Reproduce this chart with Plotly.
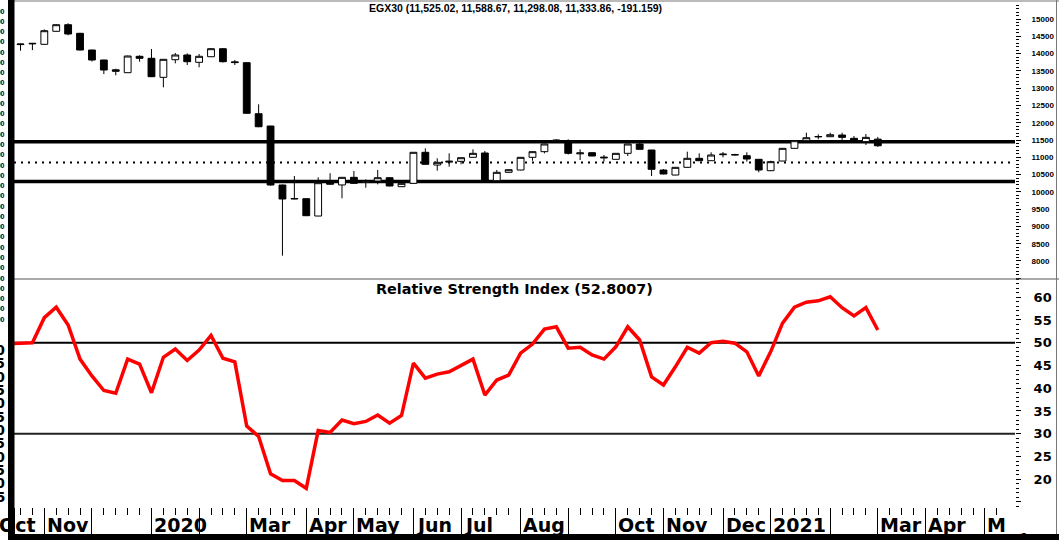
import plotly.graph_objects as go

# ---------------- data ----------------
weeks = list(range(73))
opens = [14260, 14280, 14268, 14644, 14835, 14586, 14103, 13814, 13530, 13447,
         13921, 13863, 13313, 13823, 13959, 13747, 13909, 14141, 13760, 13737,
         12260, 11904, 10198, 9795, 9802, 9301, 10300, 10200, 10420, 10280,
         10313, 10409, 10149, 10246, 11144, 10776, 10860, 10883, 10999, 11124,
         10323, 10565, 10632, 10999, 11162, 11470, 11452, 11100, 11133, 10980,
         10941, 11114, 11384, 11210, 10632, 10487, 10709, 10970, 10901, 11075,
         11080, 11046, 10941, 10612, 10892, 11259, 11480, 11590, 11595, 11644,
         11548, 11452, 11525.02]
highs = [14285, 14300, 14700, 14850, 14876, 14600, 14110, 13820, 13562, 13940,
         13950, 14132, 13840, 14017, 14007, 13988, 14160, 14150, 13814, 13745,
         12532, 11910, 10210, 10458, 9810, 10420, 10540, 10430, 10603, 10360,
         10632, 10420, 10250, 11150, 11259, 10970, 11114, 10995, 11230, 11182,
         10632, 10650, 11005, 11170, 11390, 11520, 11520, 11230, 11145, 11066,
         11120, 11390, 11420, 11215, 10660, 10715, 11162, 11114, 11144, 11150,
         11100, 11144, 10950, 10900, 11265, 11485, 11711, 11664, 11711, 11711,
         11615, 11673, 11588.67]
lows = [14083, 14100, 14250, 14630, 14528, 14095, 13770, 13409, 13371, 13440,
        13765, 13320, 13024, 13718, 13669, 13602, 13900, 13740, 13669, 12260,
        11870, 10180, 8153, 9780, 9300, 9295, 10210, 9813, 10230, 10120,
        10217, 10160, 10140, 10240, 10790, 10612, 10728, 10796, 10990, 10320,
        10315, 10560, 10625, 10900, 11114, 11440, 11080, 10921, 11030, 10873,
        10935, 11037, 11225, 10458, 10510, 10480, 10700, 10895, 10895, 10999,
        11050, 10873, 10565, 10600, 10885, 11250, 11470, 11520, 11590, 11500,
        11475, 11355, 11298.08]
closes = [14275, 14295, 14662, 14835, 14566, 14103, 13814, 13525, 13490, 13930,
          13863, 13331, 13834, 13959, 13765, 13921, 14141, 13765, 13740, 12272,
          11884, 10198, 9793, 9805, 9310, 10265, 10220, 10420, 10246, 10310,
          10409, 10169, 10246, 11144, 10796, 10854, 10885, 10988, 11114, 10323,
          10565, 10641, 10999, 11162, 11384, 11495, 11114, 11125, 11037, 11000,
          11114, 11384, 11230, 10652, 10516, 10709, 10970, 10901, 11066, 11090,
          11070, 10950, 10632, 10873, 11259, 11480, 11566, 11600, 11653, 11576,
          11480, 11576, 11333.86]

rsi_x = list(range(-1, 73))
rsi_vals = [49.8, 49.9, 50.0, 55.5, 57.8, 53.9, 46.4, 42.7, 39.5, 38.9, 46.4,
            45.3, 39.0, 46.8, 48.6, 46.1, 48.4, 51.6, 46.6, 45.8, 31.7,
            29.4, 21.2, 19.7, 19.7, 18.0, 30.7, 30.3, 33.0, 32.2, 32.7,
            34.1, 32.3, 34.0, 45.5, 42.2, 43.1, 43.6, 44.9, 46.4, 38.5,
            41.8, 42.9, 47.7, 49.7, 53.0, 53.5, 48.8, 49.0, 47.3, 46.4,
            49.1, 53.5, 50.6, 42.5, 40.7, 44.7, 49.0, 47.7, 50.0, 50.3,
            49.9, 48.0, 42.7, 48.0, 54.3, 57.8, 58.9, 59.2, 60.1, 57.7,
            55.9, 57.7, 52.8]

month_first_week = [-2, 2, 6, 11, 15, 19, 24, 28, 33, 37, 42, 46, 50, 54, 59, 63, 68, 72, 76, 81]
month_labels = ["Oct", "Nov", "", "2020", "", "Mar", "Apr", "May", "Jun", "Jul",
                "Aug", "", "Oct", "Nov", "Dec", "2021", "", "Mar", "Apr", "May"]

price_tickvals = [7500, 8000, 8500, 9000, 9500, 10000, 10500, 11000, 11500, 12000,
                  12500, 13000, 13500, 14000, 14500, 15000]
price_ticktext = ["", "8000", "8500", "9000", "9500", "10000", "10500", "11000", "11500",
                  "12000", "12500", "13000", "13500", "14000", "14500", "15000"]
rsi_tickvals = [15, 20, 25, 30, 35, 40, 45, 50, 55, 60]
rsi_ticktext = ["", "20", "25", "30", "35", "40", "45", "50", "55", "60"]

resistance_level = 11450
support_level = 10300
mid_level = 10850
rsi_levels = [50, 30]

price_title = "EGX30 (11,525.02, 11,588.67, 11,298.08, 11,333.86, -191.159)"
rsi_title = "Relative Strength Index (52.8007)"

left_price_labels = ["15300", "15200", "15100", "15000", "14900", "14800", "14700", "14600",
                     "14500", "14400", "14300", "14200", "14100", "14000", "13900", "13800",
                     "13700", "13600", "13500", "13400", "13300", "13200", "13100", "13000",
                     "12900", "12800", "12700", "12600", "12500", "12400", "12300"]
left_rsi_labels = ["60", "55", "50", "45", "40", "35", "30", "25", "20", "15", "10", "5"]

# ---------------- geometry ----------------
W, H = 1059, 540
L, R, T, B = 14, 1015, 2, 507
SPLIT = 279
X0_PIX, WEEK_PIX = 20.5, 11.907
xmin = (L - X0_PIX) / WEEK_PIX
xmax = (R - X0_PIX) / WEEK_PIX


def px(x):
    return (x - L) / (R - L)


def py(y):
    return (B - y) / (B - T)


def week_pix(i):
    return L + (i - xmin) / (xmax - xmin) * (R - L)


split_dom = py(SPLIT)
BOLD_DV = "DejaVu Sans"
BOLD_LS = "Liberation Sans"

fig = go.Figure()
# RSI on the primary y axis (bottom panel), price on y2 (top panel)
fig.add_trace(go.Scatter(
    x=rsi_x, y=rsi_vals, mode="lines", xaxis="x", yaxis="y",
    line=dict(color="#ff0000", width=3.5), showlegend=False, hoverinfo="skip"))
fig.add_trace(go.Candlestick(
    x=weeks, open=opens, high=highs, low=lows, close=closes,
    xaxis="x", yaxis="y2",
    increasing=dict(fillcolor="white", line=dict(color="black", width=1)),
    decreasing=dict(fillcolor="black", line=dict(color="black", width=1)),
    whiskerwidth=0, showlegend=False, hoverinfo="skip"))

shapes = []
shapes.append(dict(type="line", xref="paper", yref="y2", x0=0, x1=1, y0=resistance_level, y1=resistance_level,
                   line=dict(color="black", width=3.5), layer="below"))
shapes.append(dict(type="line", xref="paper", yref="y2", x0=0, x1=1, y0=support_level, y1=support_level,
                   line=dict(color="black", width=3.5), layer="below"))
shapes.append(dict(type="line", xref="paper", yref="y2", x0=0, x1=1, y0=mid_level, y1=mid_level,
                   line=dict(color="black", width=2, dash="2px,5px"), layer="below"))
for lv, col in zip(rsi_levels, ["black", "#222222"]):
    shapes.append(dict(type="line", xref="paper", yref="y", x0=0, x1=1, y0=lv, y1=lv,
                       line=dict(color=col, width=2), layer="below"))
shapes.append(dict(type="line", xref="paper", yref="paper", x0=0, x1=px(W), y0=split_dom, y1=split_dom,
                   line=dict(color="#555555", width=1)))
shapes.append(dict(type="line", xref="paper", yref="paper", x0=0, x1=px(W), y0=py(1), y1=py(1),
                   line=dict(color="#777777", width=1)))
shapes.append(dict(type="line", xref="paper", yref="paper", x0=px(1056.5), x1=px(1056.5), y0=py(0), y1=py(534),
                   line=dict(color="#777777", width=1)))
shapes.append(dict(type="rect", xref="paper", yref="paper", x0=px(8), x1=px(14.5), y0=py(H), y1=py(0),
                   fillcolor="black", line=dict(width=0)))
shapes.append(dict(type="rect", xref="paper", yref="paper", x0=px(8), x1=px(W), y0=py(H), y1=py(534),
                   fillcolor="black", line=dict(width=0)))

annotations = []
annotations.append(dict(text=price_title, xref="paper", yref="paper", x=px(515), y=py(7.5),
                        xanchor="center", yanchor="middle", showarrow=False,
                        font=dict(family=BOLD_LS, size=10.5, color="black", weight="bold")))
annotations.append(dict(text=rsi_title, xref="paper", yref="paper", x=px(514), y=py(288.5),
                        xanchor="center", yanchor="middle", showarrow=False,
                        font=dict(family=BOLD_DV, size=14.4, color="black", weight="bold")))
for wk, lab in zip(month_first_week, month_labels):
    if not lab:
        continue
    annotations.append(dict(text=lab, xref="paper", yref="paper", x=px(week_pix(wk) + 1.5), y=py(525),
                            xanchor="left", yanchor="middle", showarrow=False, borderpad=0,
                            font=dict(family=BOLD_DV, size=19, color="black", weight="bold")))
for k, lab in enumerate(left_price_labels):
    annotations.append(dict(text=lab, xref="paper", yref="paper", x=px(5.5), y=py(11 + 10.27 * k),
                            xanchor="right", yanchor="middle", showarrow=False, borderpad=0,
                            font=dict(family=BOLD_LS, size=7, color="black", weight="bold")))
for k, lab in enumerate(left_rsi_labels):
    annotations.append(dict(text=lab, xref="paper", yref="paper", x=px(5.5), y=py(350 + 13.33 * k),
                            xanchor="right", yanchor="middle", showarrow=False, borderpad=0,
                            font=dict(family=BOLD_DV, size=13.5, color="black", weight="bold")))
# masks drawn on top of the clipped month labels
annotations.append(dict(text="\u00a0", xref="paper", yref="paper", x=px(1006), y=py(508),
                        xanchor="left", yanchor="top", showarrow=False, width=50, height=25,
                        bgcolor="white", borderpad=0, borderwidth=0))
annotations.append(dict(text="\u00a0", xref="paper", yref="paper", x=px(8), y=py(508),
                        xanchor="left", yanchor="top", showarrow=False, width=6.5, height=26,
                        bgcolor="black", borderpad=0, borderwidth=0))

fig.update_layout(
    width=W, height=H,
    margin=dict(l=L, r=W - R, t=T, b=H - B, pad=0),
    paper_bgcolor="white", plot_bgcolor="white",
    boxgap=0.18, showlegend=False,
    shapes=shapes, annotations=annotations,
    xaxis=dict(domain=[0, 1], range=[xmin, xmax],
               rangeslider=dict(visible=False), showgrid=False, zeroline=False, showline=False,
               tickmode="array", tickvals=month_first_week, showticklabels=False,
               ticks="outside", ticklen=26, tickwidth=1, tickcolor="black",
               minor=dict(tickmode="linear", tick0=0, dtick=1, ticks="outside", ticklen=7,
                          tickwidth=1, tickcolor="black", showgrid=False)),
    yaxis2=dict(domain=[split_dom, 1], anchor="x", side="right", range=[7479, 15492],
                showgrid=False, zeroline=False, showline=False,
                tickmode="array", tickvals=price_tickvals, ticktext=price_ticktext,
                ticks="outside", ticklen=5, tickwidth=1, tickcolor="black", ticklabelstandoff=9,
                tickfont=dict(family=BOLD_LS, size=8, color="black", weight="bold"),
                minor=dict(tickmode="linear", tick0=0, dtick=100, ticks="outside", ticklen=2.5,
                           tickwidth=1, tickcolor="black", showgrid=False)),
    yaxis=dict(domain=[0, split_dom], anchor="x", side="right", range=[13.9, 64.0],
               showgrid=False, zeroline=False, showline=False,
               tickmode="array", tickvals=rsi_tickvals, ticktext=rsi_ticktext,
               ticks="outside", ticklen=5, tickwidth=1, tickcolor="black", ticklabelstandoff=10,
               tickfont=dict(family=BOLD_DV, size=13, color="black", weight="bold"),
               minor=dict(tickmode="linear", tick0=0, dtick=1, ticks="outside", ticklen=2.5,
                          tickwidth=1, tickcolor="black", showgrid=False)),
)

fig.write_html(
    "out.html",
    config={"displayModeBar": False},
    post_script="document.body.style.margin='0';document.body.style.padding='0';"
                "document.documentElement.style.overflow='hidden';",
)
